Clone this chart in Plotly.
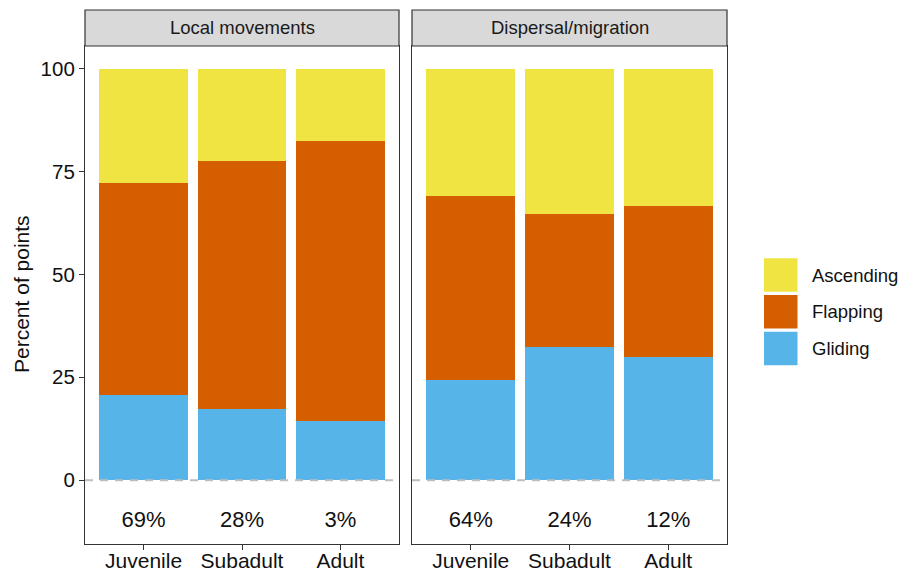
import plotly.graph_objects as go

# ---- data ----
categories = ["Juvenile", "Subadult", "Adult"]
panels = ["Local movements", "Dispersal/migration"]
series = ["Ascending", "Flapping", "Gliding"]

local_gliding = [20.8, 17.4, 14.4]
local_flapping = [51.5, 60.2, 68.1]
local_ascending = [27.7, 22.4, 17.5]

disp_gliding = [24.4, 32.4, 29.9]
disp_flapping = [44.6, 32.3, 36.7]
disp_ascending = [31.0, 35.3, 33.4]

local_pct = ["69%", "28%", "3%"]
disp_pct = ["64%", "24%", "12%"]
label_y = -10

yticks = [0, 25, 50, 75, 100]

colors = {"Ascending": "#F0E442", "Flapping": "#D55E00", "Gliding": "#56B4E9"}

FONT = "Liberation Sans, Arial, Helvetica, sans-serif"
W, H = 899, 574
ML, MR, MT, MB = 85, 172, 46, 30
PW = W - ML - MR
PH = H - MT - MB


def px_x(p):
    return (p - ML) / PW


def px_y(p):
    return (H - MB - p) / PH


fig = go.Figure()

panel_data = [
    ("x", "y", {"Gliding": local_gliding, "Flapping": local_flapping, "Ascending": local_ascending}, local_pct),
    ("x2", "y2", {"Gliding": disp_gliding, "Flapping": disp_flapping, "Ascending": disp_ascending}, disp_pct),
]

for xa, ya, vals, pct in panel_data:
    for s in ["Gliding", "Flapping", "Ascending"]:
        fig.add_trace(go.Bar(
            x=categories, y=vals[s], name=s, xaxis=xa, yaxis=ya,
            marker=dict(color=colors[s], line=dict(width=0)),
            showlegend=False, hoverinfo="x+y+name",
        ))
    fig.add_trace(go.Scatter(
        x=categories, y=[label_y] * len(categories), text=pct, mode="text",
        textfont=dict(family=FONT, size=22, color="#111111"),
        xaxis=xa, yaxis=ya, showlegend=False, hoverinfo="skip",
    ))

fig.update_layout(
    width=W, height=H,
    margin=dict(l=ML, r=MR, t=MT, b=MB, pad=0, autoexpand=False),
    paper_bgcolor="white", plot_bgcolor="white",
    barmode="stack", bargap=0.1,
    font=dict(family=FONT, color="#111111"),
    showlegend=False,
)

dom_left = [0, px_x(399)]
dom_right = [px_x(412), 1]

axis_common = dict(
    showline=True, mirror=True, linecolor="#333333", linewidth=1.2,
    showgrid=False, zeroline=False, automargin=False,
)

fig.update_layout(
    xaxis=dict(domain=dom_left, type="category", range=[-0.595, 2.595],
               ticks="outside", ticklen=5, tickcolor="#333333", ticklabelstandoff=-7,
               tickfont=dict(family=FONT, size=21, color="#111111"), **axis_common),
    xaxis2=dict(domain=dom_right, type="category", range=[-0.595, 2.595],
                anchor="y2", ticks="outside", ticklen=5, tickcolor="#333333", ticklabelstandoff=-7,
                tickfont=dict(family=FONT, size=21, color="#111111"), **axis_common),
    yaxis=dict(range=[-15.5, 105.5], tickvals=yticks, ticks="outside", ticklen=5,
               tickcolor="#333333", tickfont=dict(family=FONT, size=20.5, color="#111111"),
               anchor="x", **axis_common),
    yaxis2=dict(range=[-15.5, 105.5], tickvals=yticks, showticklabels=False, ticks="",
                anchor="x2", matches="y", **axis_common),
)

shapes = []
annotations = []

# dashed zero line in each panel
for xr, yr in [("x domain", "y"), ("x2 domain", "y2")]:
    shapes.append(dict(type="line", xref=xr, yref=yr, x0=0, x1=1, y0=0, y1=0,
                       line=dict(color="#BEBEBE", width=2, dash="8px,7px"), layer="above"))

# facet strips
strip_top = px_y(10)
for dom, title in [(dom_left, panels[0]), (dom_right, panels[1])]:
    shapes.append(dict(type="rect", xref="paper", yref="paper", x0=dom[0], x1=dom[1],
                       y0=1, y1=strip_top, fillcolor="#D9D9D9",
                       line=dict(color="#333333", width=1.2)))
    annotations.append(dict(xref="paper", yref="paper", x=(dom[0] + dom[1]) / 2,
                            y=(1 + strip_top) / 2, text=title, showarrow=False,
                            xanchor="center", yanchor="middle",
                            font=dict(family=FONT, size=18.5, color="#1A1A1A")))

# y axis title
annotations.append(dict(xref="paper", yref="paper", x=px_x(21), y=px_y(294),
                        text="Percent of points", textangle=-90, showarrow=False,
                        xanchor="center", yanchor="middle",
                        font=dict(family=FONT, size=21, color="#111111")))

# legend (keys drawn large like ggplot)
key_tops = [258.3, 295.0, 331.7]
key_h = 33.5
for s, top in zip(series, key_tops):
    shapes.append(dict(type="rect", xref="paper", yref="paper",
                       x0=px_x(764), x1=px_x(797.5), y0=px_y(top + key_h), y1=px_y(top),
                       fillcolor=colors[s], line=dict(width=0)))
    annotations.append(dict(xref="paper", yref="paper", x=px_x(810), y=px_y(top + key_h / 2),
                            text=s, showarrow=False, xanchor="left", yanchor="middle",
                            font=dict(family=FONT, size=18.5, color="#111111")))

fig.update_layout(shapes=shapes, annotations=annotations)

fig.write_html("out.html", config={"displayModeBar": False},
               post_script="document.body.style.margin='0';document.body.style.overflow='hidden';")
